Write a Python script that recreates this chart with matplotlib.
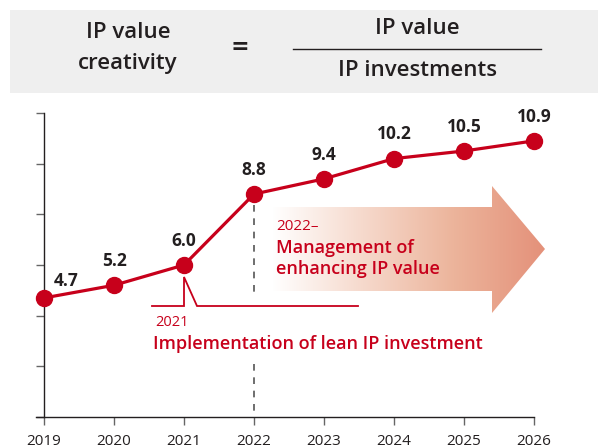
import numpy as np
import matplotlib
matplotlib.use("Agg")
import matplotlib.pyplot as plt
from matplotlib.patches import Polygon, Rectangle
from matplotlib.colors import LinearSegmentedColormap

years = [2019, 2020, 2021, 2022, 2023, 2024, 2025, 2026]
values = [4.7, 5.2, 6.0, 8.8, 9.4, 10.2, 10.5, 10.9]
value_labels = ["4.7", "5.2", "6.0", "8.8", "9.4", "10.2", "10.5", "10.9"]
y_ticks = [0, 2, 4, 6, 8, 10, 12]

RED = "#c7001b"
DARK = "#231f20"
FONT = ["Open Sans", "DejaVu Sans"]
plt.rcParams['font.family'] = FONT

W, H = 598, 448
fig = plt.figure(figsize=(W / 100, H / 100), dpi=100)

def fx(px):
    return px / W

def fy(py):
    return 1 - py / H

# Header box
fig.patches.append(Rectangle((fx(10), fy(93)), fx(598) - fx(10), fy(10) - fy(93),
                             transform=fig.transFigure, facecolor="#efefef", edgecolor="none", zorder=0))
hk = dict(fontsize=16, fontweight="semibold", color=DARK, ha="center", va="center",
          transform=fig.transFigure)
fig.text(fx(128), fy(33), "IP value", **hk)
fig.text(fx(128), fy(64), "creativity", **hk)
fig.text(fx(240), fy(49), "=", fontsize=21, fontweight="semibold", color=DARK, ha="center",
         va="center", transform=fig.transFigure)
fig.text(fx(417), fy(29), "IP value", **hk)
fig.text(fx(417), fy(70), "IP investments", **hk)
fig.add_artist(plt.Line2D([fx(293), fx(541)], [fy(49), fy(49)], color=DARK, lw=1.0,
                          transform=fig.transFigure))

# Main axes
ax = fig.add_axes([fx(44), fy(417), fx(534) - fx(44), fy(113) - fy(417)])
ax.set_xlim(2019, 2026)
ax.set_ylim(0, 12)
for s in ["top", "right"]:
    ax.spines[s].set_visible(False)
ax.spines["left"].set_color(DARK)
ax.spines["bottom"].set_color(DARK)
ax.spines["left"].set_linewidth(1.0)
ax.spines["bottom"].set_linewidth(1.0)
ax.spines["bottom"].set_bounds(2019 - 8 / 70, 2026)
ax.set_yticks(y_ticks)
ax.set_yticklabels([])
ax.tick_params(axis="y", length=6, width=1.0, color="#666666")
ax.set_xticks(years)
ax.set_xticklabels([str(y) for y in years], fontsize=11, color=DARK)
ax.tick_params(axis="x", length=6, width=1.0, color="#666666", direction="out", pad=6)
ax.patch.set_alpha(0)

# Gradient arrow (in data coordinates)
def px2x(px):
    return 2019 + (px - 44) / 70.0

def py2y(py):
    return (417 - py) / (304 / 12.0)

arrow_pts = [(px2x(272), py2y(207)), (px2x(492), py2y(207)), (px2x(492), py2y(186)),
             (px2x(545), py2y(249)), (px2x(492), py2y(313)), (px2x(492), py2y(291)),
             (px2x(272), py2y(291))]
poly = Polygon(arrow_pts, closed=True, facecolor="none", edgecolor="none",
               transform=ax.transData, clip_on=False)
ax.add_patch(poly)
cmap = LinearSegmentedColormap.from_list("g", ["#ffffff", "#f6d9cc", "#ecb49b", "#e4917a"])
grad = np.linspace(0, 1, 256).reshape(1, -1)
im = ax.imshow(grad, extent=[px2x(272), px2x(545), py2y(313), py2y(186)], cmap=cmap,
               aspect="auto", zorder=1)
im.set_clip_box(fig.bbox)
im.set_clip_path(poly)
ax.set_xlim(2019, 2026)
ax.set_ylim(0, 12)

# Dashed vertical line at 2022
ax.plot([2022, 2022], [py2y(205), py2y(298)], color="#555555", lw=1.2,
        linestyle=(0, (4, 4)), zorder=2)
ax.plot([2022, 2022], [py2y(364), 0], color="#555555", lw=1.2,
        linestyle=(0, (4, 4)), zorder=2)

# Bracket for 2021
bx = [px2x(152), px2x(184), px2x(184), px2x(197), px2x(358)]
by = [py2y(306), py2y(306), py2y(277), py2y(306), py2y(306)]
ax.plot(bx, by, color=RED, lw=1.3, zorder=2, solid_joinstyle="miter")

# Data line
ax.plot(years, values, color=RED, lw=2.3, marker="o", markersize=11.5,
        markerfacecolor=RED, markeredgecolor=RED, zorder=5, clip_on=False)

# Value labels
for i, (x, v, lab) in enumerate(zip(years, values, value_labels)):
    off = (16, 12.5) if i == 0 else (0, 17.5)
    ax.annotate(lab, (x, v), xytext=off, textcoords="offset points", ha="center",
                va="center", fontsize=12.5, fontweight="bold", color=DARK, annotation_clip=False)

# Annotation texts
ax.text(px2x(276), py2y(227), "2022–", color=RED, fontsize=11, ha="left", va="center", zorder=6)
ax.text(px2x(276), py2y(248), "Management of", color=RED, fontsize=13, fontweight="semibold",
        ha="left", va="center", zorder=6)
ax.text(px2x(276), py2y(269), "enhancing IP value", color=RED, fontsize=13, fontweight="semibold",
        ha="left", va="center", zorder=6)
ax.text(px2x(155), py2y(322), "2021", color=RED, fontsize=10.5, ha="left", va="center", zorder=6)
ax.text(px2x(153), py2y(344), "Implementation of lean IP investment", color=RED, fontsize=13,
        fontweight="semibold", ha="left", va="center", zorder=6)

fig.savefig("out.png", dpi=100)
